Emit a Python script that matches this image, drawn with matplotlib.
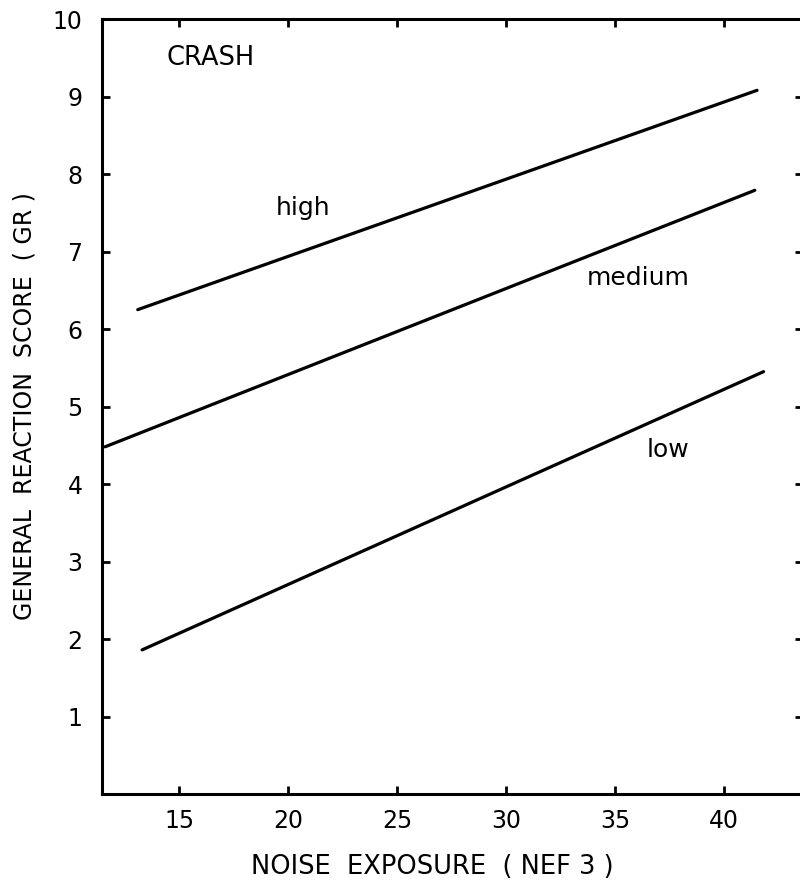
import matplotlib
matplotlib.use("Agg")
import matplotlib.pyplot as plt

# data (start / end of each fitted line)
groups = ["high", "medium", "low"]
x_start = [13.1, 11.6, 13.3]
x_end = [41.5, 41.4, 41.8]
y_start = [6.25, 4.48, 1.86]
y_end = [9.08, 7.79, 5.45]

# label positions (data coords, left edge / vertical centre)
label_x = [19.45, 33.7, 36.45]
label_y = [7.56, 6.66, 4.44]

x_ticks = [15, 20, 25, 30, 35, 40]
y_ticks = [1, 2, 3, 4, 5, 6, 7, 8, 9, 10]

plt.rcParams['font.family'] = ['DejaVu Sans']

fig = plt.figure(figsize=(8, 8.85), dpi=100)
ax = fig.add_axes([0.1275, 0.1028, 0.876, 0.8757])

for i, g in enumerate(groups):
    ax.plot([x_start[i], x_end[i]], [y_start[i], y_end[i]],
            color='black', linewidth=2.3, solid_capstyle='round')
    ax.text(label_x[i], label_y[i], g, fontsize=18, ha='left', va='center')

ax.text(14.4, 9.5, "CRASH", fontsize=18.5, ha='left', va='center')

ax.set_xlim(11.46, 43.6)
ax.set_ylim(0, 10)
ax.set_xticks(x_ticks)
ax.set_yticks(y_ticks)
ax.tick_params(direction='in', length=6, width=2, labelsize=17,
               top=True, right=True)
ax.tick_params(axis='x', pad=11)
ax.tick_params(axis='y', pad=14)

for s in ax.spines.values():
    s.set_linewidth(2.2)

ax.set_xlabel("NOISE  EXPOSURE  ( NEF 3 )", fontsize=18.5, va='center')
ax.xaxis.set_label_coords(0.472, -0.094)
ax.set_ylabel("GENERAL  REACTION  SCORE  ( GR )", fontsize=17, labelpad=12)

fig.savefig("out.png", dpi=100)
